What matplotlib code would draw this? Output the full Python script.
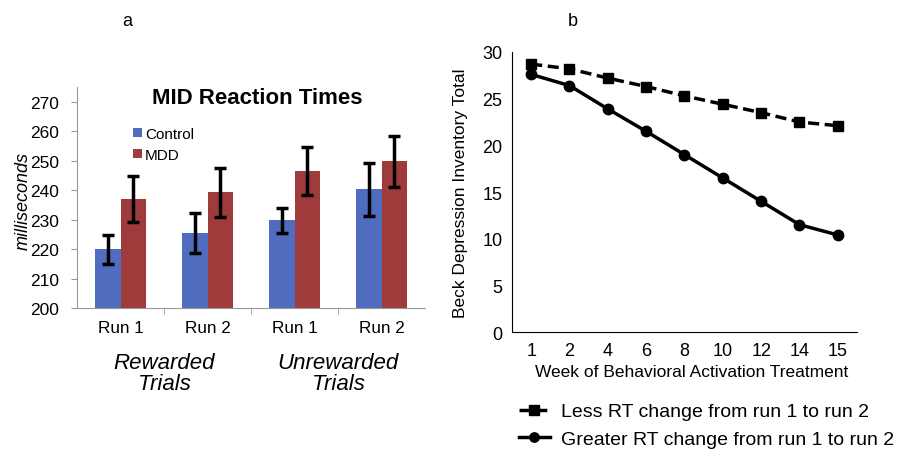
import matplotlib.pyplot as plt
import numpy as np

plt.rcParams['font.family'] = ['Liberation Sans', 'DejaVu Sans']

# panel a data
runs = ["Run 1", "Run 2", "Run 1", "Run 2"]
control = [219.9, 225.5, 229.8, 240.3]
control_err = [4.9, 6.7, 4.3, 9.0]
mdd = [237.1, 239.2, 246.5, 249.8]
mdd_err = [7.8, 8.2, 8.0, 8.7]
trial_groups = ["Rewarded\nTrials", "Unrewarded\nTrials"]

# panel b data
weeks = ["1", "2", "4", "6", "8", "10", "12", "14", "15"]
less_rt = [28.7, 28.2, 27.2, 26.3, 25.3, 24.4, 23.5, 22.5, 22.1]
greater_rt = [27.6, 26.4, 23.9, 21.5, 19.0, 16.5, 14.0, 11.5, 10.4]

fig = plt.figure(figsize=(9.03, 4.56), dpi=100)

# ---- panel a ----
ax1 = fig.add_axes([0.0853, 0.3224, 0.3854, 0.4846])
x = np.arange(len(runs))
w = 0.29
ax1.bar(x - w/2, control, w, color='#4F6CBF', label='Control')
ax1.bar(x + w/2, mdd, w, color='#A03B3B', label='MDD')
ax1.errorbar(x - w/2, control, yerr=control_err, fmt='none', ecolor='black',
             elinewidth=2.5, capsize=4, capthick=2.5)
ax1.errorbar(x + w/2, mdd, yerr=mdd_err, fmt='none', ecolor='black',
             elinewidth=2.5, capsize=4, capthick=2.5)
ax1.set_ylim(200, 275)
ax1.set_xlim(-0.5, len(runs) - 0.5)
ax1.set_yticks(range(200, 271, 10))
ax1.tick_params(axis='y', labelsize=12.5, length=4, color='#999999', pad=9)
ax1.set_xticks(x)
ax1.set_xticklabels(runs, fontsize=12.3)
ax1.set_xticks(np.arange(0.5, len(runs) - 1, 1), minor=True)
ax1.tick_params(axis='x', which='major', length=0, pad=9)
ax1.tick_params(axis='x', which='minor', length=4, color='#999999')
for s in ['top', 'right']:
    ax1.spines[s].set_visible(False)
ax1.spines['left'].set_color('#999999')
ax1.spines['bottom'].set_color('#999999')
ax1.set_ylabel('milliseconds', fontsize=13, style='italic')
ax1.yaxis.set_label_coords(-0.13, 0.49)
ax1.text(0.517, 1.0, 'MID Reaction Times', transform=ax1.transAxes, ha='center',
         va='top', fontsize=16, fontweight='bold')
ax1.legend(loc='upper left', bbox_to_anchor=(0.14, 0.855), frameon=False,
           fontsize=11, handlelength=0.55, handleheight=0.55, handletextpad=0.2,
           labelspacing=0.45, borderpad=0)
for i, g in enumerate(trial_groups):
    ax1.text(0.5 + 2 * i, -0.2, g, transform=ax1.get_xaxis_transform(),
             ha='center', va='top', fontsize=16, style='italic',
             linespacing=1.0)
fig.text(127 / 903, 1 - 22 / 456, 'a', fontsize=13, ha='center', va='center')

# ---- panel b ----
ax2 = fig.add_axes([0.567, 0.2697, 0.382, 0.6141])
xb = np.arange(len(weeks))
l1, = ax2.plot(xb, less_rt, color='black', linestyle=(0, (3.2, 1.6)), lw=2.5,
               marker='s', markersize=7.5)
l2, = ax2.plot(xb, greater_rt, color='black', linestyle='-', lw=2.5,
               marker='o', markersize=7.5)
ax2.set_ylim(0, 30)
ax2.set_xlim(-0.5, len(weeks) - 0.5)
ax2.set_xticks(xb)
ax2.set_xticklabels(weeks)
ax2.set_yticks(range(0, 31, 5))
ax2.tick_params(labelsize=13, length=0, pad=7)
for s in ['top', 'right']:
    ax2.spines[s].set_visible(False)
ax2.set_ylabel('Beck Depression Inventory Total', fontsize=12.5, labelpad=10)
ax2.set_xlabel('Week of Behavioral Activation Treatment', fontsize=12.5)
ax2.xaxis.set_label_coords(0.52, -0.115)
fig.legend([l1, l2], ['Less RT change from run 1 to run 2',
                      'Greater RT change from run 1 to run 2'],
           loc='upper left', bbox_to_anchor=(509 / 903, 1 - 394 / 456),
           frameon=False, fontsize=14, handlelength=1.6, handletextpad=0.55,
           labelspacing=0.5, borderpad=0, markerscale=0.9)
fig.text(573 / 903, 1 - 22 / 456, 'b', fontsize=13, ha='center', va='center')

fig.savefig('out.png', dpi=100)
